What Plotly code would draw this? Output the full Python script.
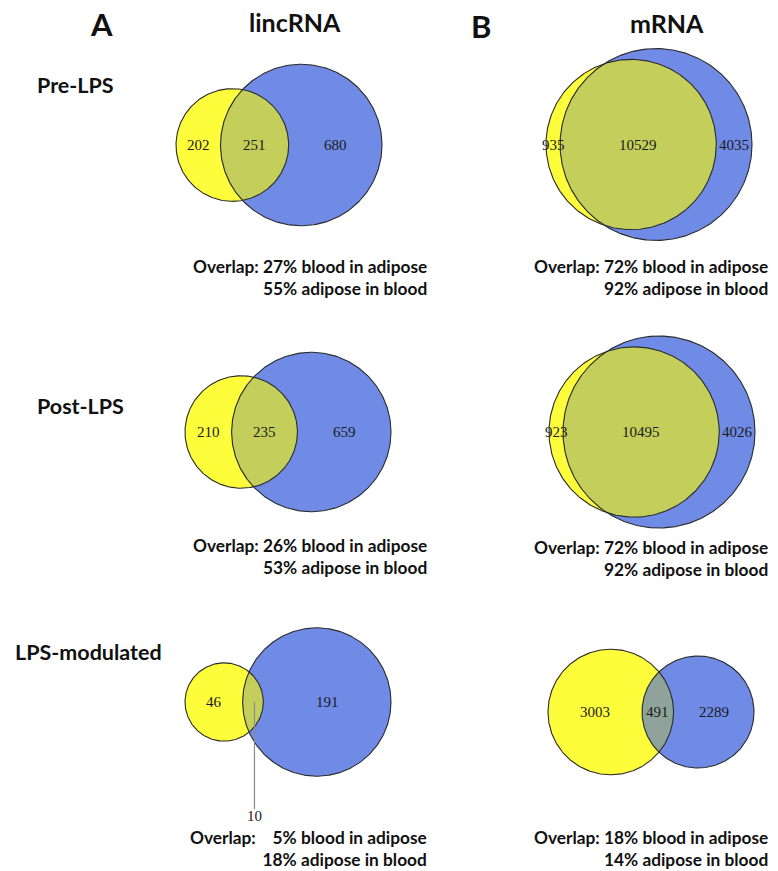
import math
import numpy as np
import plotly.graph_objects as go

# ---------------- data ----------------
conditions = ["Pre-LPS", "Post-LPS", "LPS-modulated"]

linc_adipose_only = [202, 210, 46]
linc_shared = [251, 235, 10]
linc_blood_only = [680, 659, 191]

mrna_adipose_only = [935, 923, 3003]
mrna_shared = [10529, 10495, 491]
mrna_blood_only = [4035, 4026, 2289]

column_titles = ["lincRNA", "mRNA"]
panel_letters = ["A", "B"]

# ---------------- layout / style ----------------
W, H = 778, 871
DIAGRAM_W = 206
LEFT = {"linc": [176, 185, 185], "mrna": [546, 549, 548]}
CY = {"linc": [145, 432, 702], "mrna": [144.5, 432, 712]}
TEXT_RIGHT = {"linc": 429, "mrna": 770}
TEXT_Y = {"linc": [277.5, 556, 848.5], "mrna": [277.5, 558.5, 848.5]}
YELLOW = "#FDFD3C"
BLUE = "#6F8BE6"
OVERLAP = {"linc": ["#C3CE5B", "#C3CE5B", "#C3CE5B"],
           "mrna": ["#C3CE5B", "#C3CE5B", "#8FA39A"]}
OUTLINE = "#2b2b2b"
SANS = "Lato, 'Open Sans', sans-serif"
SERIF = "'Liberation Serif', 'DejaVu Serif', serif"
EXTERNAL_SHARED = {("linc", 2): (107, 114)}  # (line length, label offset)


def lens_area(ra, rb, d):
    if d >= ra + rb:
        return 0.0
    if d <= abs(ra - rb):
        return math.pi * min(ra, rb) ** 2
    a1 = ra * ra * math.acos((d * d + ra * ra - rb * rb) / (2 * d * ra))
    a2 = rb * rb * math.acos((d * d + rb * rb - ra * ra) / (2 * d * rb))
    a3 = 0.5 * math.sqrt((-d + ra + rb) * (d + ra - rb) * (d - ra + rb) * (d + ra + rb))
    return a1 + a2 - a3


def solve_d(ra, rb, area):
    lo, hi = abs(ra - rb), ra + rb
    for _ in range(200):
        mid = 0.5 * (lo + hi)
        if lens_area(ra, rb, mid) > area:
            lo = mid
        else:
            hi = mid
    return 0.5 * (lo + hi)


fig = go.Figure()
annotations = []


def circle_xy(cx, cy, r, n=360):
    t = np.linspace(0, 2 * np.pi, n)
    return cx + r * np.cos(t), cy + r * np.sin(t)


def add_panel(key, row, a_only, shared, b_only):
    A = a_only + shared
    B = b_only + shared
    ra = math.sqrt(A / math.pi)
    rb = math.sqrt(B / math.pi)
    d = solve_d(ra, rb, shared)
    left = min(-ra, d - rb)
    right = max(ra, d + rb)
    s = DIAGRAM_W / (right - left)
    x0 = LEFT[key][row]
    cy = CY[key][row]
    cxa = x0 + (0 - left) * s
    cxb = x0 + (d - left) * s
    Ra, Rb, D = ra * s, rb * s, d * s

    # fills
    for cx, r, col in [(cxa, Ra, YELLOW), (cxb, Rb, BLUE)]:
        xs, ys = circle_xy(cx, cy, r)
        fig.add_trace(go.Scatter(x=xs, y=ys, mode="lines", fill="toself",
                                 fillcolor=col, line=dict(width=0),
                                 hoverinfo="skip", showlegend=False))
    # lens
    xi = (D * D - Rb * Rb + Ra * Ra) / (2 * D)
    h = math.sqrt(max(Ra * Ra - xi * xi, 0))
    beta = math.atan2(h, xi)
    alpha = math.atan2(h, xi - D)
    t1 = np.linspace(-beta, beta, 200)
    t2 = np.linspace(alpha, 2 * np.pi - alpha, 200)
    lx = np.concatenate([cxa + Ra * np.cos(t1), cxb + Rb * np.cos(t2)])
    ly = np.concatenate([cy + Ra * np.sin(t1), cy + Rb * np.sin(t2)])
    fig.add_trace(go.Scatter(x=lx, y=ly, mode="lines", fill="toself",
                             fillcolor=OVERLAP[key][row], line=dict(width=0),
                             hoverinfo="skip", showlegend=False))
    # outlines
    for cx, r in [(cxa, Ra), (cxb, Rb)]:
        xs, ys = circle_xy(cx, cy, r)
        fig.add_trace(go.Scatter(x=xs, y=ys, mode="lines",
                                 line=dict(color=OUTLINE, width=1.1),
                                 hoverinfo="skip", showlegend=False))

    # region labels
    la, ra_edge = cxa - Ra, cxa + Ra
    lb, rb_edge = cxb - Rb, cxb + Rb
    num_font = dict(family=SERIF, size=15, color="#1a1a1a")
    annotations.append(dict(x=(la + lb) / 2, y=cy, text=str(a_only), showarrow=False,
                            font=num_font, xanchor="center", yanchor="middle"))
    annotations.append(dict(x=(ra_edge + rb_edge) / 2, y=cy, text=str(b_only), showarrow=False,
                            font=num_font, xanchor="center", yanchor="middle"))
    mid = (lb + ra_edge) / 2
    if (key, row) in EXTERNAL_SHARED:
        ln, off = EXTERNAL_SHARED[(key, row)]
        lxm = mid + 1.5
        fig.add_trace(go.Scatter(x=[lxm, lxm], y=[cy, cy + ln], mode="lines",
                                 line=dict(color="#8c8c8c", width=1.2),
                                 hoverinfo="skip", showlegend=False))
        annotations.append(dict(x=lxm, y=cy + off, text=str(shared), showarrow=False,
                                font=num_font, xanchor="center", yanchor="middle"))
    else:
        annotations.append(dict(x=mid, y=cy, text=str(shared), showarrow=False,
                                font=num_font, xanchor="center", yanchor="middle"))

    # overlap text
    p_blood = round(100 * shared / B)
    p_adip = round(100 * shared / A)
    pad = "\u00a0" * (4 if p_blood < 10 else 1)
    txt = f"<b>Overlap:{pad}{p_blood}% blood in adipose</b><br><b>{p_adip}% adipose in blood</b>"
    annotations.append(dict(x=TEXT_RIGHT[key], y=TEXT_Y[key][row], text=txt, showarrow=False,
                            align="right", xanchor="right", yanchor="middle",
                            font=dict(family=SANS, size=17.3, color="#111111")))


for row in range(3):
    add_panel("linc", row, linc_adipose_only[row], linc_shared[row], linc_blood_only[row])
    add_panel("mrna", row, mrna_adipose_only[row], mrna_shared[row], mrna_blood_only[row])

# headings
bold = lambda s: f"<b>{s}</b>"
annotations += [
    dict(x=101, y=24, text=bold(panel_letters[0]), font=dict(family=SANS, size=31, color="#111")),
    dict(x=481, y=26, text=bold(panel_letters[1]), font=dict(family=SANS, size=31, color="#111")),
    dict(x=295, y=22, text=bold(column_titles[0]), font=dict(family=SANS, size=25, color="#111")),
    dict(x=667, y=23, text=bold(column_titles[1]), font=dict(family=SANS, size=25, color="#111")),
]
for c in annotations[-4:]:
    c.update(showarrow=False, xanchor="center", yanchor="middle")

row_label_x = [35, 35, 13]
row_label_y = [85, 406, 652]
for i, name in enumerate(conditions):
    annotations.append(dict(x=row_label_x[i], y=row_label_y[i], text=bold(name), showarrow=False,
                            xanchor="left", yanchor="middle",
                            font=dict(family=SANS, size=21.5, color="#111")))

fig.update_layout(
    width=W, height=H,
    margin=dict(l=0, r=0, t=0, b=0),
    paper_bgcolor="white", plot_bgcolor="white",
    xaxis=dict(range=[0, W], visible=False, fixedrange=True),
    yaxis=dict(range=[H, 0], visible=False, fixedrange=True),
    annotations=annotations,
    showlegend=False,
)

fig.write_html("out.html", config={"displayModeBar": False},
               post_script="document.body.style.margin='0px';document.body.style.overflow='hidden';")
